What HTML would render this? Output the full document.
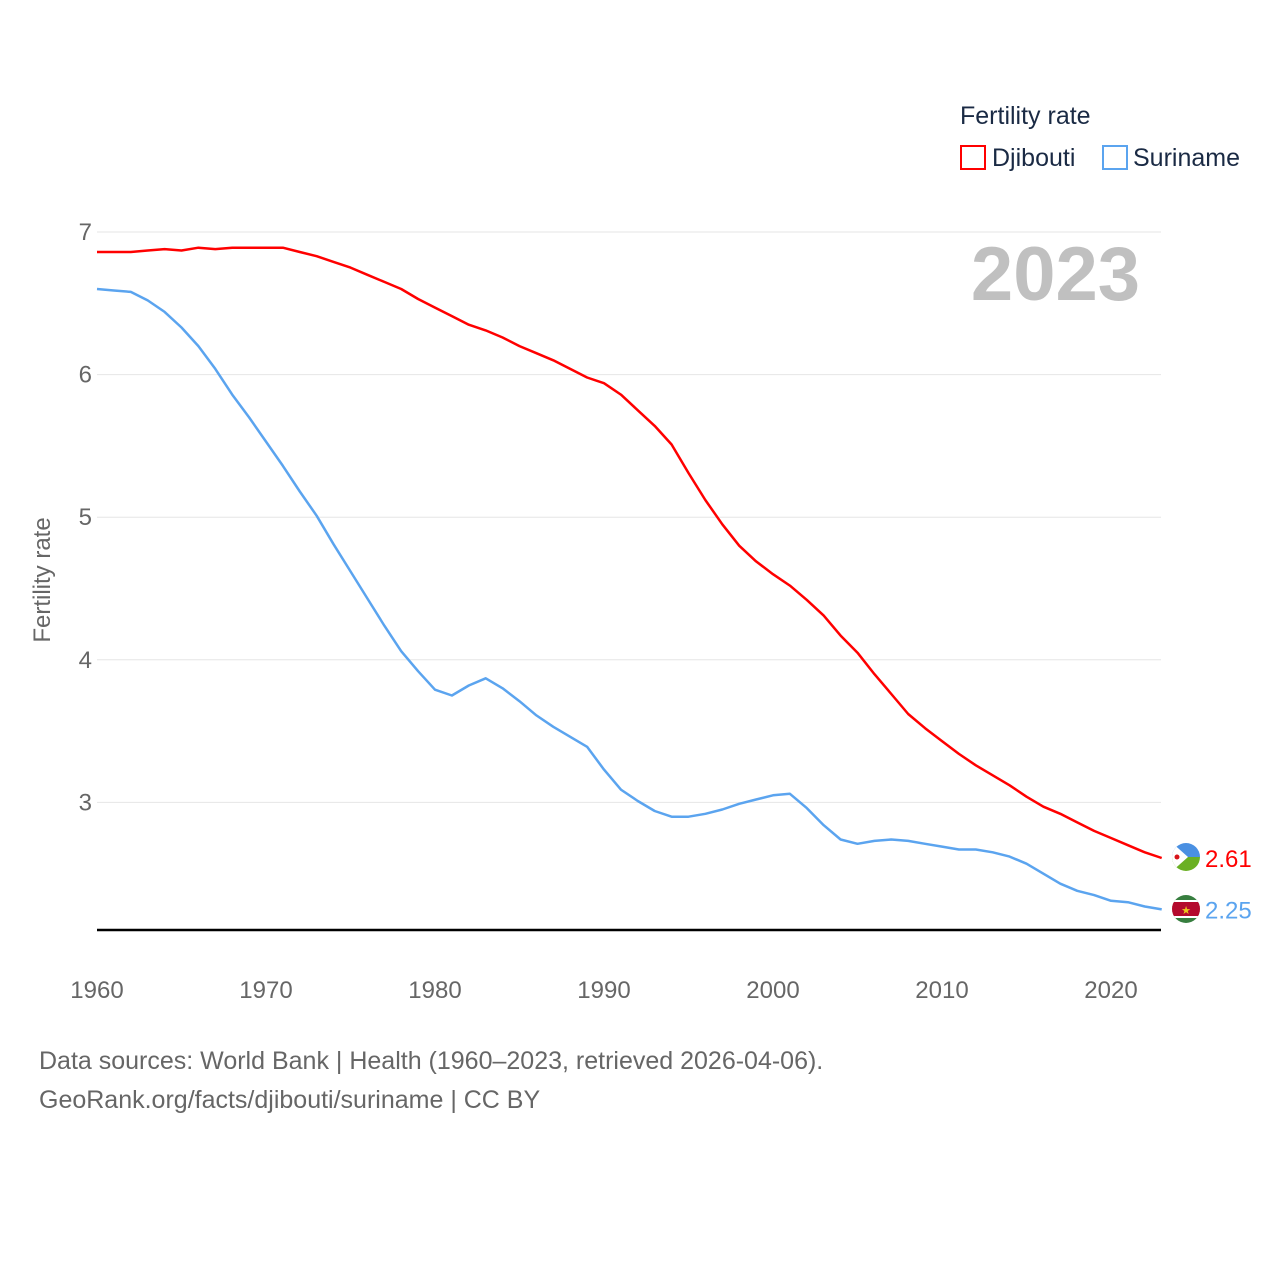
<!DOCTYPE html>
<html><head><meta charset="utf-8">
<style>
html,body{margin:0;padding:0;background:#fff;}
body{width:1280px;height:1280px;overflow:hidden;font-family:"Liberation Sans",sans-serif;}
</style></head>
<body>
<svg id="chart" width="1280" height="1280" xmlns="http://www.w3.org/2000/svg" font-family="Liberation Sans, sans-serif">
<defs>
<clipPath id="c1"><circle cx="1186" cy="857" r="14"/></clipPath>
<clipPath id="c2"><circle cx="1186" cy="909" r="14"/></clipPath>
</defs>
<g clip-path="url(#c1)">
<rect x="1170" y="841" width="32" height="16" fill="#4a90e2"/>
<rect x="1170" y="857" width="32" height="16" fill="#6ab023"/>
<polygon points="1170,841 1188,857 1170,873" fill="#fff"/>
<circle cx="1177" cy="857" r="2.5" fill="#d7141a"/>
</g>
<g clip-path="url(#c2)">
<rect x="1170" y="893" width="32" height="32" fill="#377e3f"/>
<rect x="1170" y="900" width="32" height="18" fill="#fff"/>
<rect x="1170" y="902" width="32" height="14" fill="#b40a2d"/>
<text x="1186" y="914" text-anchor="middle" font-size="11" fill="#ecc81d">★</text>
</g>
</svg>
<script>
const years = [];
for (let y = 1960; y <= 2023; y++) years.push(y);
const djibouti = [6.86,6.86,6.86,6.87,6.88,6.87,6.89,6.88,6.89,6.89,6.89,6.89,6.86,6.83,6.79,6.75,6.70,6.65,6.60,6.53,6.47,6.41,6.35,6.31,6.26,6.20,6.15,6.10,6.04,5.98,5.94,5.86,5.75,5.64,5.51,5.31,5.12,4.95,4.80,4.69,4.60,4.52,4.42,4.31,4.17,4.05,3.90,3.76,3.62,3.52,3.43,3.34,3.26,3.19,3.12,3.04,2.97,2.92,2.86,2.80,2.75,2.70,2.65,2.61];
const suriname = [6.60,6.59,6.58,6.52,6.44,6.33,6.20,6.04,5.86,5.70,5.53,5.36,5.18,5.01,4.81,4.62,4.43,4.24,4.06,3.92,3.79,3.75,3.82,3.87,3.80,3.71,3.61,3.53,3.46,3.39,3.23,3.09,3.01,2.94,2.90,2.90,2.92,2.95,2.99,3.02,3.05,3.06,2.96,2.84,2.74,2.71,2.73,2.74,2.73,2.71,2.69,2.67,2.67,2.65,2.62,2.57,2.50,2.43,2.38,2.35,2.31,2.30,2.27,2.25];
const yTicks = [3,4,5,6,7];
const xTicks = [1960,1970,1980,1990,2000,2010,2020];

const X0=97, X1=1161.7;
const xs = y => X0 + (y-1960)*(X1-X0)/63;
const ys = v => 232 + (7-v)*142.6;
const svg = document.getElementById('chart');
const NS='http://www.w3.org/2000/svg';
function mk(tag, attrs, text){const e=document.createElementNS(NS,tag);for(const k in attrs)e.setAttribute(k,attrs[k]);if(text!==undefined)e.textContent=text;svg.insertBefore(e, svg.querySelector('g'));return e;}

yTicks.forEach(t=>{
  const g=mk('line',{x1:97,x2:1161,y1:ys(t),y2:ys(t),stroke:'#e6e6e6','stroke-width':1});
  
  
  const l=mk('text',{x:92,y:ys(t)+8,'text-anchor':'end','font-size':24,fill:'#666'},String(t));
  
  
});
xTicks.forEach(t=>{
  const l=mk('text',{x:xs(t),y:998,'text-anchor':'middle','font-size':24,fill:'#666'},String(t));
  
  
});
const base=mk('line',{x1:97,x2:1161,y1:930,y2:930,stroke:'#000','stroke-width':2.5});



const yt=mk('text',{x:0,y:0,transform:'translate(50,580) rotate(-90)','text-anchor':'middle','font-size':24,fill:'#666'},'Fertility rate');



const yr=mk('text',{x:1140,y:300,'text-anchor':'end','font-size':76,'font-weight':'bold',fill:'#c0c0c0'},'2023');



function line(data,color,name){
  const d=data.map((v,i)=>(i?'L':'M')+xs(years[i]).toFixed(1)+','+ys(v).toFixed(1)).join(' ');
  const p=mk('path',{d:d,fill:'none',stroke:color,'stroke-width':2.5,'stroke-linejoin':'round'});
  
  
  const last=data[data.length-1];
  const v=mk('text',{x:1205,y:ys(last)+9,'font-size':24,fill:color},last.toFixed(2));
  
  
}
line(djibouti,'#ff0000','djibouti');
line(suriname,'#5ba4ef','suriname');

const lt=mk('text',{x:960,y:124,'font-size':25,fill:'#1a2a44'},'Fertility rate');


const r1=mk('rect',{x:961,y:146,width:24,height:23,fill:'none',stroke:'#ff0000','stroke-width':2});


const t1=mk('text',{x:992,y:166,'font-size':25,fill:'#1a2a44'},'Djibouti');


const r2=mk('rect',{x:1103,y:146,width:24,height:23,fill:'none',stroke:'#5ba4ef','stroke-width':2});


const t2=mk('text',{x:1133,y:166,'font-size':25,fill:'#1a2a44'},'Suriname');



const s1=mk('text',{x:39,y:1069,'font-size':25,fill:'#666'},'Data sources: World Bank | Health (1960–2023, retrieved 2026-04-06).');


const s2=mk('text',{x:39,y:1108,'font-size':25,fill:'#666'},'GeoRank.org/facts/djibouti/suriname | CC BY');


</script>
</body></html>
